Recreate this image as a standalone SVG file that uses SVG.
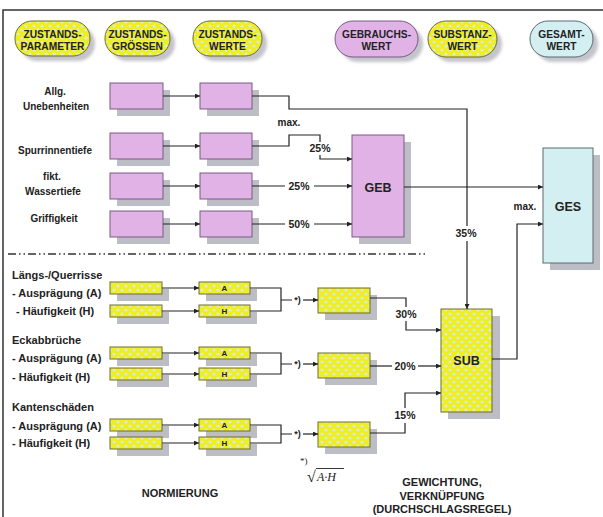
<svg xmlns="http://www.w3.org/2000/svg" width="603" height="517" viewBox="0 0 603 517">
<defs>
<pattern id="dots" width="8" height="8" patternUnits="userSpaceOnUse"><rect width="8" height="8" fill="#eeee22"/><circle cx="2" cy="2" r="1.6" fill="#dcecdc"/><circle cx="6" cy="6" r="1.6" fill="#dcecdc"/></pattern>
<marker id="ah" viewBox="0 0 10 10" refX="10" refY="5" markerWidth="7" markerHeight="5" markerUnits="userSpaceOnUse" orient="auto"><path d="M0,0 L10,5 L0,10 z" fill="#222"/></marker>
<filter id="bl" x="-20%" y="-20%" width="140%" height="140%"><feGaussianBlur stdDeviation="1.5"/></filter>
</defs>
<style>
text{font-family:"Liberation Sans",Arial,sans-serif;font-weight:bold;fill:#222}
.c{text-anchor:middle}
.hd{font-size:10.2px}
.lbl{font-size:10px}
.sl{font-size:11px}
.pct{font-size:10.5px}
.big{font-size:12.5px}
.ab{font-size:8px}
.st{font-size:9px}
.sh{fill:#bdbdc5}
.psh{fill:#c4c4cc;filter:url(#bl)}
.pk{fill:#e0b2e6;stroke:#7a5a80;stroke-width:1}
.yl{fill:url(#dots);stroke:#6d6d30;stroke-width:1}
.cy{fill:#d3eff1;stroke:#5a6a70;stroke-width:1}
.ln{fill:none;stroke:#222;stroke-width:1.2}
.ar{marker-end:url(#ah)}
.fr{fill:none;stroke:#333;stroke-width:1.5}
</style>

<g id="frame">
<path class="fr" d="M3,517 V10 H603"/>
<path d="M8,254 H427" fill="none" stroke="#333" stroke-width="1.5" stroke-dasharray="8 3 1.5 3 1.5 3"/>
</g>

<!-- header pills -->
<g id="h-zustandsparameter">
<rect class="psh" x="20" y="26" width="75" height="35" rx="17"/>
<rect class="yl" x="15" y="21" width="75" height="35" rx="17"/>
<text class="c hd" x="52.5" y="37.5">ZUSTANDS-</text><text class="c hd" x="52.5" y="50">PARAMETER</text>
</g>
<g id="h-zustandsgroessen">
<rect class="psh" x="110" y="26" width="65" height="35" rx="17"/>
<rect class="yl" x="105" y="21" width="65" height="35" rx="17"/>
<text class="c hd" x="137.5" y="37.5">ZUSTANDS-</text><text class="c hd" x="137.5" y="50">GRÖSSEN</text>
</g>
<g id="h-zustandswerte">
<rect class="psh" x="198" y="26" width="69" height="35" rx="17"/>
<rect class="yl" x="193" y="21" width="69" height="35" rx="17"/>
<text class="c hd" x="227.5" y="37.5">ZUSTANDS-</text><text class="c hd" x="227.5" y="50">WERTE</text>
</g>
<g id="h-gebrauchswert">
<rect class="psh" x="340" y="26" width="83" height="36" rx="18"/>
<rect class="pk" x="335" y="21" width="83" height="36" rx="18"/>
<text class="c hd" x="376.5" y="37.5">GEBRAUCHS-</text><text class="c hd" x="376.5" y="50">WERT</text>
</g>
<g id="h-substanzwert">
<rect class="psh" x="433" y="26" width="69" height="36" rx="18"/>
<rect class="yl" x="428" y="21" width="69" height="36" rx="18"/>
<text class="c hd" x="462.5" y="37.5">SUBSTANZ-</text><text class="c hd" x="462.5" y="50">WERT</text>
</g>
<g id="h-gesamtwert">
<rect class="psh" x="535" y="26" width="63" height="36" rx="18"/>
<rect class="cy" x="530" y="21" width="63" height="36" rx="18"/>
<text class="c hd" x="561.5" y="37.5">GESAMT-</text><text class="c hd" x="561.5" y="50">WERT</text>
</g>

<!-- left labels -->
<g id="labels">
<text class="c lbl" x="55" y="95">Allg.</text><text class="c lbl" x="56" y="110">Unebenheiten</text>
<text class="c lbl" x="55" y="154">Spurrinnentiefe</text>
<text class="c lbl" x="52" y="180">fikt.</text><text class="c lbl" x="53" y="195">Wassertiefe</text>
<text class="c lbl" x="54" y="222">Griffigkeit</text>
<text class="sl" x="12" y="279">Längs-/Querrisse</text>
<text class="sl" x="12" y="297">- Ausprägung (A)</text>
<text class="sl" x="16" y="315">- Häufigkeit (H)</text>
<text class="sl" x="12" y="344">Eckabbrüche</text>
<text class="sl" x="12" y="362">- Ausprägung (A)</text>
<text class="sl" x="12" y="381">- Häufigkeit (H)</text>
<text class="sl" x="12" y="411">Kantenschäden</text>
<text class="sl" x="12" y="430">- Ausprägung (A)</text>
<text class="sl" x="12" y="447">- Häufigkeit (H)</text>
<text class="c sl" x="180" y="497">NORMIERUNG</text>
<text class="c sl" x="442" y="486">GEWICHTUNG,</text>
<text class="c sl" x="442" y="500">VERKNÜPFUNG</text>
<text class="c sl" x="442" y="513">(DURCHSCHLAGSREGEL)</text>
</g>

<!-- pink boxes -->
<g id="geb-p1"><rect class="sh" x="117" y="90" width="53" height="26"/><rect class="pk" x="110" y="83" width="53" height="26"/></g>
<g id="geb-g1"><rect class="sh" x="207" y="90" width="52" height="26"/><rect class="pk" x="200" y="83" width="52" height="26"/></g>
<g id="geb-p2"><rect class="sh" x="117" y="140" width="53" height="26"/><rect class="pk" x="110" y="133" width="53" height="26"/></g>
<g id="geb-g2"><rect class="sh" x="207" y="140" width="52" height="26"/><rect class="pk" x="200" y="133" width="52" height="26"/></g>
<g id="geb-p3"><rect class="sh" x="117" y="180" width="53" height="26"/><rect class="pk" x="110" y="173" width="53" height="26"/></g>
<g id="geb-g3"><rect class="sh" x="207" y="180" width="52" height="26"/><rect class="pk" x="200" y="173" width="52" height="26"/></g>
<g id="geb-p4"><rect class="sh" x="117" y="218" width="53" height="26"/><rect class="pk" x="110" y="211" width="53" height="26"/></g>
<g id="geb-g4"><rect class="sh" x="207" y="218" width="52" height="26"/><rect class="pk" x="200" y="211" width="52" height="26"/></g>
<g id="geb"><rect class="sh" x="359" y="142" width="52" height="102"/><rect class="pk" x="352" y="135" width="52" height="102"/><text class="c big" x="378" y="192">GEB</text></g>
<g id="ges"><rect class="sh" x="550" y="155" width="50" height="115"/><rect class="cy" x="543" y="148" width="50" height="115"/><text class="c big" x="568" y="211">GES</text></g>

<!-- yellow boxes -->
<g id="lq-pa"><rect class="sh" x="117" y="289" width="52" height="12"/><rect class="yl" x="110" y="282" width="52" height="12"/></g>
<g id="lq-a"><rect class="sh" x="206" y="289" width="51" height="12"/><rect class="yl" x="199" y="282" width="51" height="12"/><text class="c ab" x="224.5" y="291">A</text></g>
<g id="lq-ph"><rect class="sh" x="117" y="312" width="52" height="12"/><rect class="yl" x="110" y="305" width="52" height="12"/></g>
<g id="lq-h"><rect class="sh" x="206" y="312" width="51" height="12"/><rect class="yl" x="199" y="305" width="51" height="12"/><text class="c ab" x="224.5" y="314">H</text></g>
<g id="lq-r"><rect class="sh" x="325" y="295" width="52" height="25"/><rect class="yl" x="318" y="288" width="52" height="25"/></g>

<g id="eb-pa"><rect class="sh" x="117" y="354" width="52" height="12"/><rect class="yl" x="110" y="347" width="52" height="12"/></g>
<g id="eb-a"><rect class="sh" x="206" y="354" width="51" height="12"/><rect class="yl" x="199" y="347" width="51" height="12"/><text class="c ab" x="224.5" y="356">A</text></g>
<g id="eb-ph"><rect class="sh" x="117" y="375" width="52" height="12"/><rect class="yl" x="110" y="368" width="52" height="12"/></g>
<g id="eb-h"><rect class="sh" x="206" y="375" width="51" height="12"/><rect class="yl" x="199" y="368" width="51" height="12"/><text class="c ab" x="224.5" y="377">H</text></g>
<g id="eb-r"><rect class="sh" x="325" y="360" width="52" height="25"/><rect class="yl" x="318" y="353" width="52" height="25"/></g>

<g id="ks-pa"><rect class="sh" x="117" y="426" width="52" height="12"/><rect class="yl" x="110" y="419" width="52" height="12"/></g>
<g id="ks-a"><rect class="sh" x="206" y="426" width="51" height="12"/><rect class="yl" x="199" y="419" width="51" height="12"/><text class="c ab" x="224.5" y="428">A</text></g>
<g id="ks-ph"><rect class="sh" x="117" y="444" width="52" height="12"/><rect class="yl" x="110" y="437" width="52" height="12"/></g>
<g id="ks-h"><rect class="sh" x="206" y="444" width="51" height="12"/><rect class="yl" x="199" y="437" width="51" height="12"/><text class="c ab" x="224.5" y="446">H</text></g>
<g id="ks-r"><rect class="sh" x="325" y="429" width="52" height="25"/><rect class="yl" x="318" y="422" width="52" height="25"/></g>

<g id="sub"><rect class="sh" x="448" y="316" width="52" height="103"/><rect class="yl" x="441" y="309" width="51" height="103"/><text class="c big" x="466.5" y="365">SUB</text></g>

<!-- connectors -->
<g id="connectors">
<path class="ln ar" d="M163,96 H200"/>
<path class="ln ar" d="M163,146 H200"/>
<path class="ln ar" d="M163,186 H200"/>
<path class="ln ar" d="M163,224 H200"/>
<path class="ln" d="M252,96 H289 V109 H467 V226"/>
<path class="ln ar" d="M467,241 V309"/>
<path class="ln" d="M252,146 H289 V135 H320 V142"/>
<path class="ln ar" d="M320,155 V159 H352"/>
<path class="ln" d="M252,186 H285"/>
<path class="ln ar" d="M314,186 H352"/>
<path class="ln" d="M252,224 H285"/>
<path class="ln ar" d="M314,224 H352"/>
<path class="ln ar" d="M404,187 H543"/>
<path class="ln ar" d="M492,359 H517 V224 H543"/>

<path class="ln ar" d="M162,288 H199"/>
<path class="ln ar" d="M162,311 H199"/>
<path class="ln ar" d="M162,353 H199"/>
<path class="ln ar" d="M162,374 H199"/>
<path class="ln ar" d="M162,425 H199"/>
<path class="ln ar" d="M162,443 H199"/>

<path class="ln" d="M250,288 H281 V311 H250 M281,300 H292"/>
<path class="ln ar" d="M303,300 H318"/>
<path class="ln" d="M250,353 H281 V374 H250 M281,364 H292"/>
<path class="ln ar" d="M303,364 H318"/>
<path class="ln" d="M250,425 H281 V443 H250 M281,434 H292"/>
<path class="ln ar" d="M303,434 H318"/>

<path class="ln" d="M370,298 H406 V307"/>
<path class="ln ar" d="M406,321 V330 H441"/>
<path class="ln" d="M370,366 H392"/>
<path class="ln ar" d="M418,366 H441"/>
<path class="ln" d="M370,433 H405 V423"/>
<path class="ln ar" d="M405,408 V393 H441"/>

<text class="c lbl" x="289" y="126">max.</text>
<text class="c pct" x="320" y="152">25%</text>
<text class="c pct" x="299" y="190">25%</text>
<text class="c pct" x="299" y="228">50%</text>
<text class="c pct" x="466" y="237">35%</text>
<text class="c lbl" x="525" y="210">max.</text>
<text class="c st" x="297.5" y="303">*)</text>
<text class="c st" x="297.5" y="367">*)</text>
<text class="c st" x="297.5" y="437">*)</text>
<text class="c pct" x="406" y="318">30%</text>
<text class="c pct" x="405" y="370">20%</text>
<text class="c pct" x="405" y="419">15%</text>
</g>

<g id="footnote">
<text x="300" y="464" style="font-family:'Liberation Serif',serif;font-weight:normal;font-size:9px">*)</text>
<text x="307" y="482" style="font-family:'Liberation Serif',serif;font-weight:normal;font-size:16px">√</text>
<line x1="316" y1="468.5" x2="344" y2="468.5" stroke="#222" stroke-width="0.9"/>
<text x="317" y="481" style="font-family:'Liberation Serif',serif;font-weight:normal;font-style:italic;font-size:12px">A·H</text>
</g>
</svg>
